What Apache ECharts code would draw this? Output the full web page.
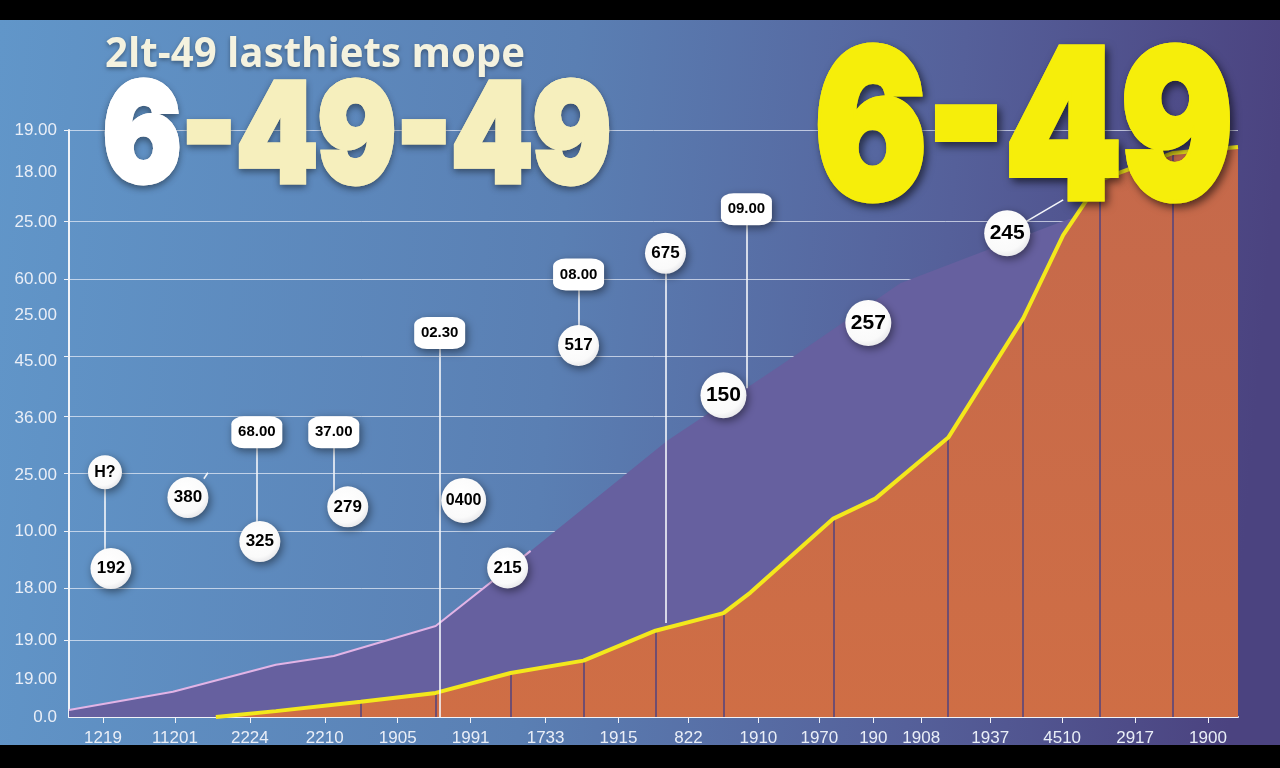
<!DOCTYPE html>
<html><head><meta charset="utf-8">
<script src="https://cdn.jsdelivr.net/npm/echarts@6/dist/echarts.min.js"></script>
<style>html,body{margin:0;padding:0;background:#000}#c{width:1280px;height:768px}</style>
</head><body><div id="c"></div>
<script>
// ---- data ----
const xLabels = ['1219','11201','2224','2210','1905','1991','1733','1915','822','1910','1970','190','1908','1937','4510','2917','1900'];
const xLabelPos = [3.4,10.6,18.1,25.6,32.9,40.2,47.7,55.0,62.0,69.0,75.1,80.5,85.3,92.2,99.4,106.7,114.0];
const yLabels = ['0.0','19.00','19.00','18.00','10.00','25.00','36.00','45.00','25.00','60.00','25.00','18.00','19.00'];
const yLabelPos = [0,6.5,13.1,22.0,31.6,41.1,50.9,60.6,68.4,74.6,84.3,92.8,100];
const gridPos = [13.1,22.0,31.6,41.5,51.2,61.4,74.6,84.5,100];

const areaX = [0,10.4,20.7,26.5,36.7,46.2,59.9,71.2,83.2,93.2,99.2,107.2,117];
const areaY = [1.2,4.3,8.9,10.4,15.5,28.3,47.1,59.9,73.9,80.4,84.3,88.9,94.0];
const pinkCount = 6;

const lineX = [14.7,20.7,29.2,36.7,44.2,51.5,58.7,65.5,68.2,76.5,80.7,88.0,95.5,99.5,103.2,110.5,117];
const lineY = [0,1.0,2.6,4.1,7.5,9.6,14.7,17.7,21.2,33.8,37.2,47.6,67.9,82.1,91.5,96.1,97.1];
const dividerIdx = [2,3,4,5,6,7,9,11,12,14,15];

const bubbleText = ['H?','192','380','68.00','325','37.00','279','0400','215','02.30','08.00','517','675','09.00','150','257','245'];
const bubbleX = [3.6,4.2,11.9,18.8,19.1,26.5,27.9,39.5,43.9,37.1,51.0,51.0,59.7,67.8,65.5,80.0,93.9];
const bubbleY = [41.7,25.3,37.4,48.5,29.9,48.5,35.8,36.9,25.4,65.4,75.4,63.3,79.0,86.5,54.8,67.1,82.4];
const bubbleKind = ['small','ball','ball','pill','ball','pill','ball','mid','ball','pill','pill','ball','ball','pill','big','big','big'];

const connectors = [
  [[3.6,41.7],[3.6,25.3]],
  [[18.8,48.5],[18.8,29.9]],
  [[26.5,48.5],[26.5,37.5]],
  [[37.1,65.4],[37.1,0]],
  [[51.0,75.4],[51.0,63.3]],
  [[59.7,79.0],[59.7,16.0]],
  [[67.8,86.5],[67.8,56.0]],
  [[95.7,84.3],[99.5,88.1]],
  [[13.5,40.6],[13.9,41.6]]
];

const subTitle = '2lt-49 lasthiets mope';
const bigLeftA = '6', bigLeftB = '-49-49';
const bigRight = '6-49';

// ---- styles ----
const kindStyle = {
  small: {symbol:'circle', size:34, font:16},
  ball:  {symbol:'circle', size:41, font:17},
  mid:   {symbol:'circle', size:45, font:16},
  big:   {symbol:'circle', size:46, font:21},
  pill:  {symbol:'roundRect', size:[51,32], font:15}
};
const ballFill = new echarts.graphic.RadialGradient(0.42,0.38,0.72,[
  {offset:0,color:'#ffffff'},{offset:0.7,color:'#fafafa'},{offset:1,color:'#dedee2'}]);

function labelFor(v, pos, labels){
  for (let i=0;i<pos.length;i++){ if (Math.abs(pos[i]-v)<1e-6) return labels[i]; }
  return '';
}
const mctx = document.createElement('canvas').getContext('2d');
function fit(text, font, target){ mctx.font = font; return target / mctx.measureText(text).width; }

const bigFamily = 'Inter, Roboto, "Open Sans", sans-serif';
const titleFamily = '"Open Sans", Roboto, sans-serif';
const leftSize = 138, rightSize = 206;
const sLeft = fit(bigLeftA+bigLeftB, '900 '+leftSize+'px ' + bigFamily, 508);
const sRight = fit(bigRight, '900 '+rightSize+'px ' + bigFamily, 418);
const sTitle = fit(subTitle, '700 42px ' + titleFamily, 420);

// heavy text: a shadowed copy underneath, a clean copy on top
function heavyText(base, shadow){
  const clean = JSON.parse(JSON.stringify(base));
  const under = JSON.parse(JSON.stringify(base));
  under.z = base.z - 1;
  const addShadow = s => Object.assign(s, shadow);
  if (under.style.rich) Object.keys(under.style.rich).forEach(k=>addShadow(under.style.rich[k]));
  else addShadow(under.style);
  return [under, clean];
}

const chart = echarts.init(document.getElementById('c'));

const areaData = areaX.map((x,i)=>[x,areaY[i]]);
const pinkData = areaData.slice(0,pinkCount);
const lineData = lineX.map((x,i)=>[x,lineY[i]]);
const dividers = dividerIdx.map(i=>[{coord:[lineX[i],0]},{coord:[lineX[i],lineY[i]]}]);
const gridLines = gridPos.map(v=>({yAxis:v}));
const bubbleData = bubbleText.map((t,i)=>{
  const k = kindStyle[bubbleKind[i]];
  return {
    name:t, value:[bubbleX[i],bubbleY[i]],
    symbol:k.symbol, symbolSize:k.size,
    itemStyle:{color: bubbleKind[i]==='pill' ? '#ffffff' : ballFill},
    label:{fontSize:k.font}
  };
});

const axisColor = '#f1f3f8';

const leftBig = {type:'text', z:100, x:103, y:141, scaleX:sLeft, silent:true,
  style:{text:'{a|'+bigLeftA+'}{b|'+bigLeftB+'}', align:'left', verticalAlign:'middle',
    rich:{
      a:{fill:'#ffffff', stroke:'#ffffff', lineWidth:5, fontSize:leftSize, fontWeight:900, fontFamily:bigFamily},
      b:{fill:'#f6efbd', stroke:'#f6efbd', lineWidth:5, fontSize:leftSize, fontWeight:900, fontFamily:bigFamily}
    }}};
const rightBig = {type:'text', z:100, x:815, y:136, scaleX:sRight, silent:true,
  style:{text:bigRight, fill:'#f6ee0a', stroke:'#f6ee0a', lineWidth:7, fontSize:rightSize, fontWeight:900, fontFamily:bigFamily,
    align:'left', verticalAlign:'middle'}};

chart.setOption({
  backgroundColor:'#000',
  animation:false,
  grid:{left:69, right:42, top:130, bottom:51},
  xAxis:{type:'value', min:0, max:117,
    axisLine:{show:true, onZero:false, lineStyle:{color:axisColor, width:2}},
    axisTick:{show:true, customValues:xLabelPos, length:6, lineStyle:{color:axisColor}},
    axisLabel:{customValues:xLabelPos, formatter:v=>labelFor(v,xLabelPos,xLabels),
      color:'#e9eef7', fontSize:17, margin:13, fontFamily:'"Liberation Sans", Arial, sans-serif'},
    splitLine:{show:false}},
  yAxis:{type:'value', min:0, max:100,
    axisLine:{show:true, lineStyle:{color:axisColor, width:2}},
    axisTick:{show:true, customValues:gridPos, length:5, lineStyle:{color:axisColor}},
    axisLabel:{customValues:yLabelPos, formatter:v=>labelFor(v,yLabelPos,yLabels),
      color:'#e9eef7', fontSize:17, margin:12, fontFamily:'"Liberation Sans", Arial, sans-serif'},
    splitLine:{show:false}},
  graphic:[
    {type:'rect', z:-10, silent:true, shape:{x:0,y:20,width:1280,height:725},
      style:{fill:new echarts.graphic.LinearGradient(0,0,1,0.15,[
        {offset:0,color:'#6196c9'},{offset:0.45,color:'#5a7fb3'},{offset:0.75,color:'#55609a'},{offset:1,color:'#4b4380'}])}},
    {type:'text', z:100, x:105, y:55, scaleX:sTitle, silent:true,
      style:{text:subTitle, fill:'#f4f2df', fontSize:42, fontWeight:700, fontFamily:titleFamily,
        align:'left', verticalAlign:'middle', textShadowColor:'rgba(0,0,0,0.35)', textShadowBlur:4, textShadowOffsetY:2}}
  ].concat(
    heavyText(leftBig, {textShadowColor:'rgba(0,0,0,0.35)', textShadowBlur:7, textShadowOffsetY:3}),
    heavyText(rightBig, {textShadowColor:'rgba(0,0,0,0.5)', textShadowBlur:9, textShadowOffsetX:3, textShadowOffsetY:4})
  ),
  series:[
    {type:'line', z:1, data:[[0,0]], symbol:'none', lineStyle:{opacity:0}, silent:true,
      markLine:{z:1, silent:true, symbol:'none', label:{show:false}, animation:false,
        lineStyle:{color:'rgba(235,240,250,0.7)', width:1, type:'solid'}, data:gridLines}},
    {type:'line', z:2, data:areaData, symbol:'none', lineStyle:{width:0},
      areaStyle:{color:'#66609f', opacity:1}},
    {type:'line', z:3, data:pinkData, symbol:'none', lineStyle:{color:'#e2b4e6', width:2}},
    {type:'line', z:4, data:lineData, symbol:'none', lineStyle:{width:0},
      areaStyle:{color:new echarts.graphic.LinearGradient(0,0,0,1,[{offset:0,color:'#c5694b'},{offset:1,color:'#cf6e45'}]), opacity:1}},
    {type:'line', z:5, data:[[0,0]], symbol:'none', lineStyle:{opacity:0}, silent:true,
      markLine:{z:5, silent:true, symbol:'none', label:{show:false}, animation:false,
        lineStyle:{color:'rgba(95,72,120,0.85)', width:2, type:'solid'}, data:dividers}},
    {type:'line', z:6, data:lineData, symbol:'none', lineStyle:{color:'#f3e81c', width:4}},
    {type:'lines', z:7, coordinateSystem:'cartesian2d', polyline:false, silent:true,
      lineStyle:{color:'#f4f6fa', width:1.6, opacity:1},
      data:connectors.map(c=>({coords:c}))},
    {type:'scatter', z:8, data:bubbleData,
      itemStyle:{opacity:1, shadowBlur:8, shadowColor:'rgba(0,0,0,0.45)', shadowOffsetX:2, shadowOffsetY:3},
      label:{show:true, position:'inside', formatter:'{b}', color:'#000', fontWeight:'bold',
        fontFamily:'"Liberation Sans", Arial, sans-serif'}}
  ]
});
</script></body></html>
